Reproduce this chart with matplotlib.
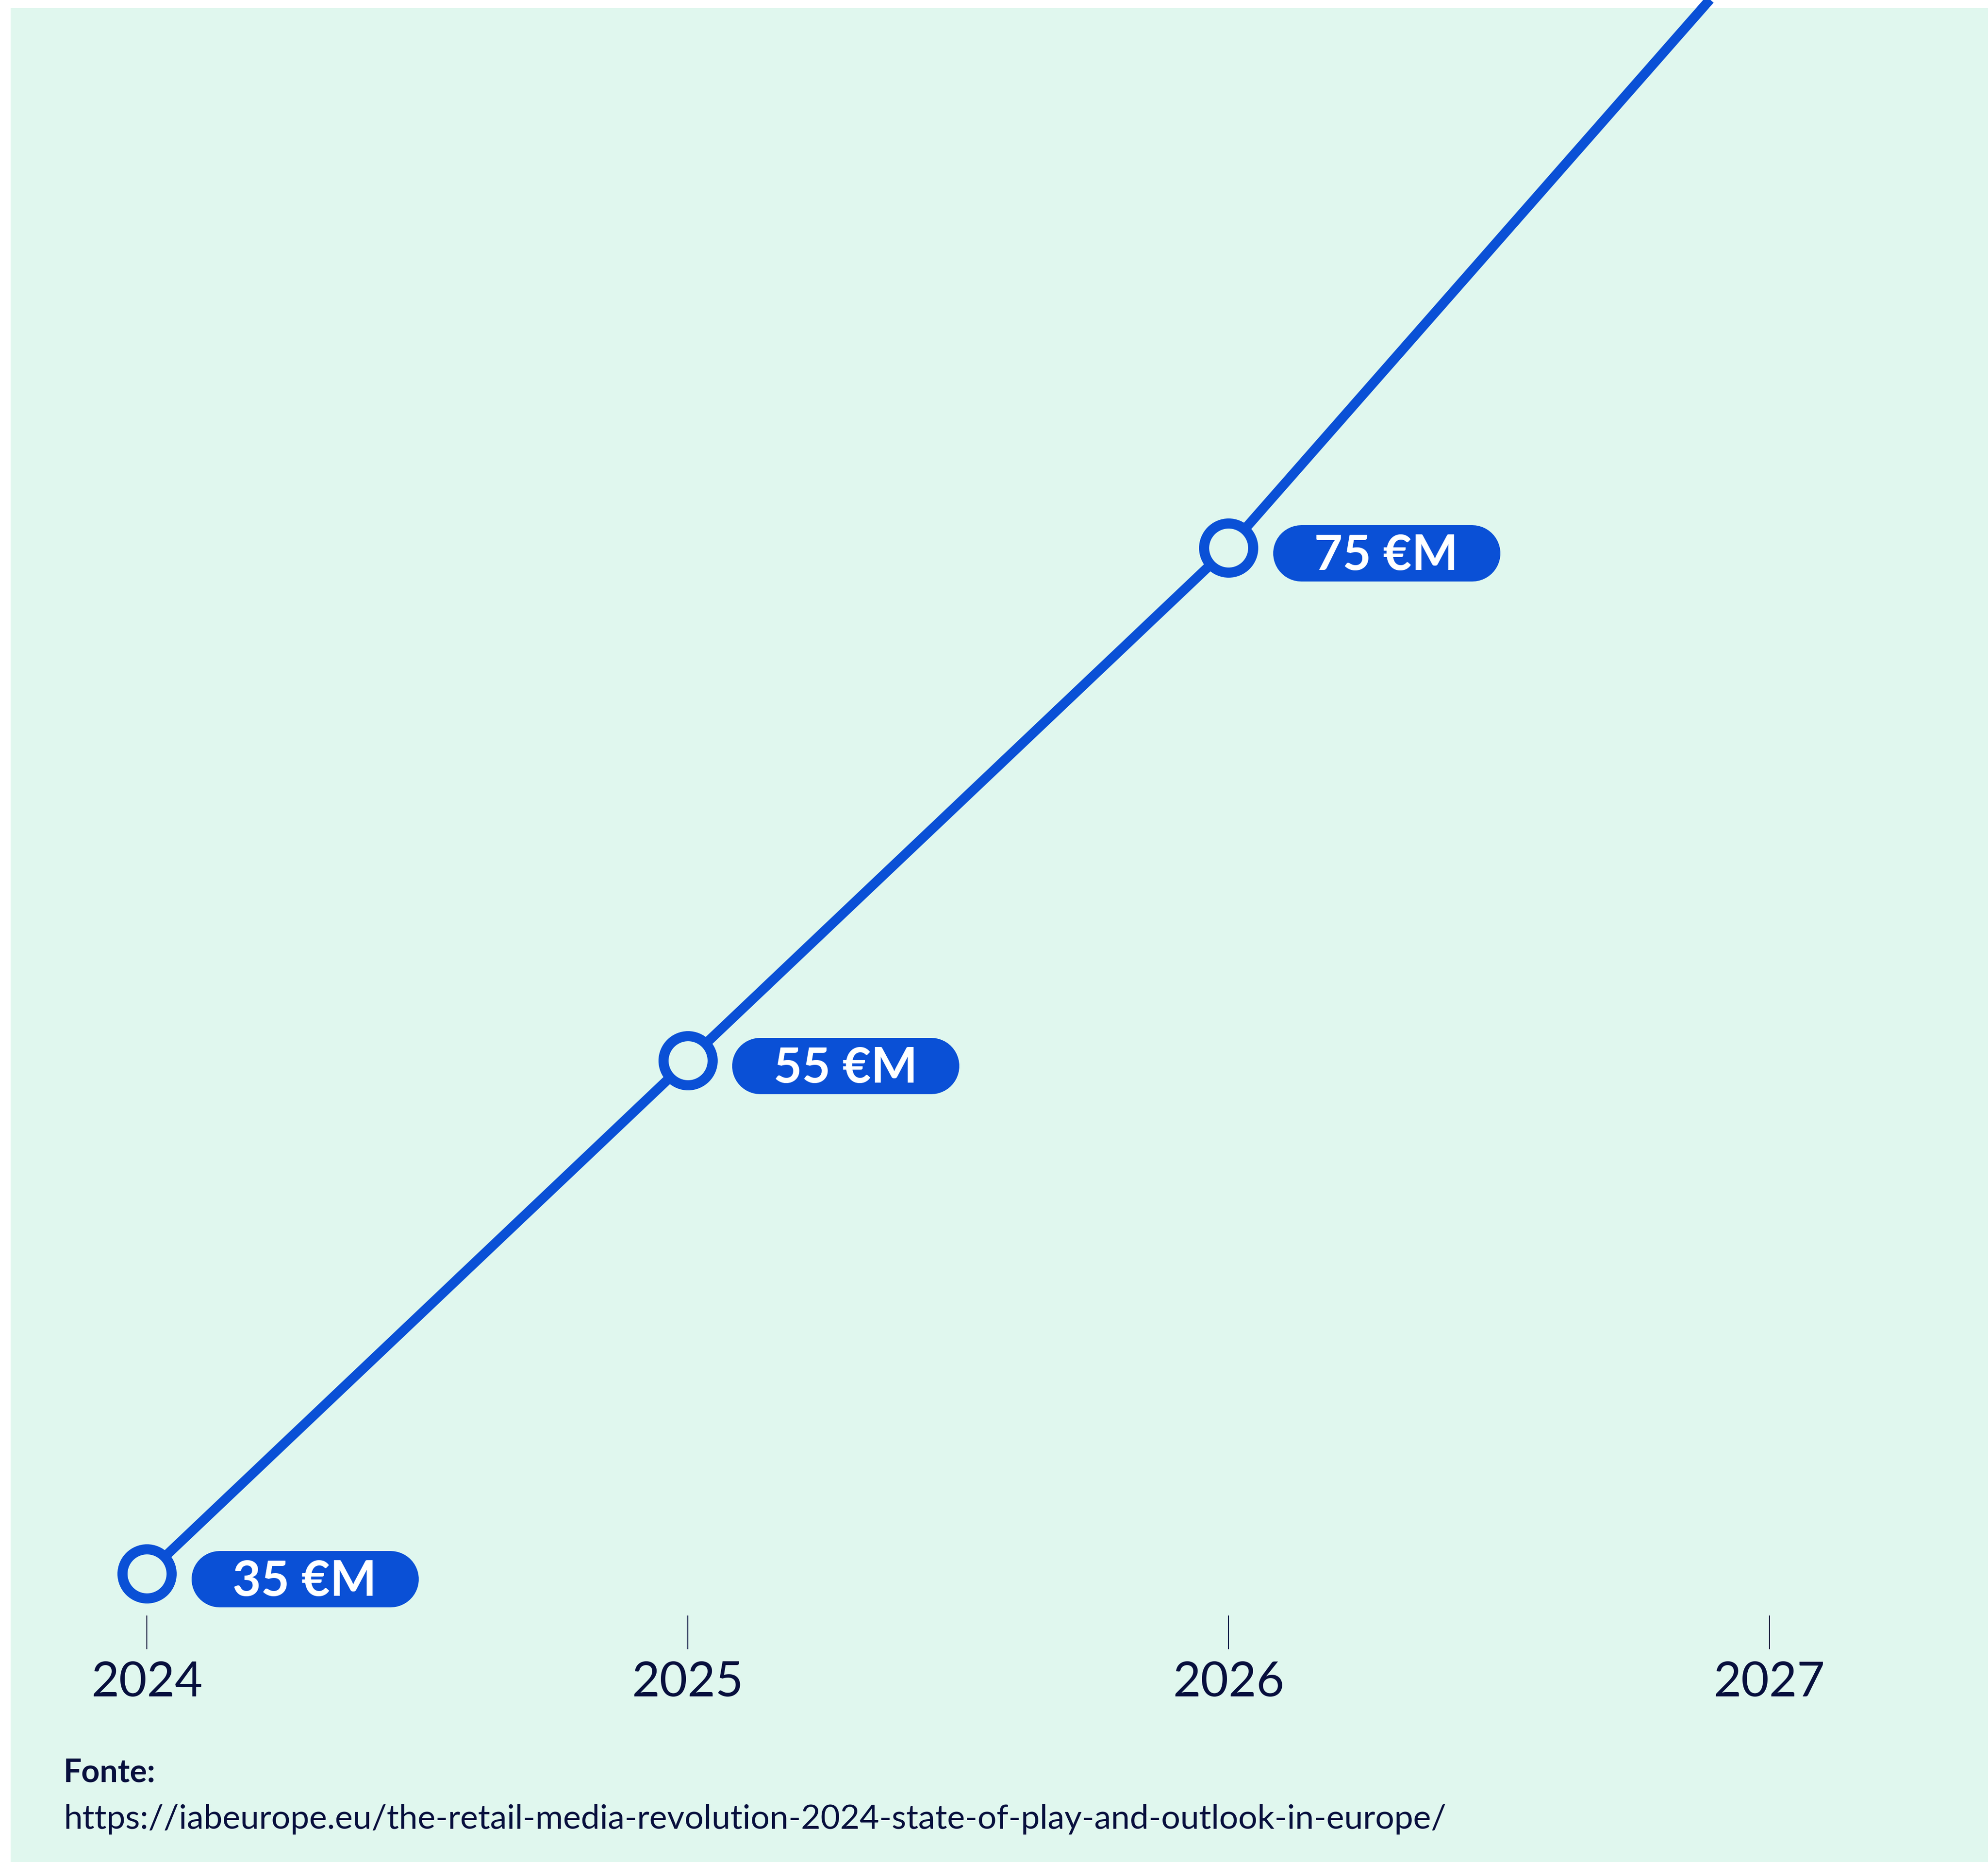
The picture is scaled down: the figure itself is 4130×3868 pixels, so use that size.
import matplotlib.pyplot as plt
import matplotlib.transforms as mtransforms
from matplotlib.patches import Rectangle

# retail media spend, millions of euro
years = [2024, 2025, 2026, 2027]
values = [35, 55, 75, 99]
labels = ["35 €M", "55 €M", "75 €M", "99 €M"]
source_title = "Fonte:"
source_url = "https://iabeurope.eu/the-retail-media-revolution-2024-state-of-play-and-outlook-in-europe/"

blue = "#0a50d6"
mint = "#e0f7ee"
navy = "#070f3d"

W, H, DPI = 4130, 3868, 300
px = 72 / DPI  # one pixel in points

plt.rcParams['font.family'] = ['Lato', 'DejaVu Sans']

fig = plt.figure(figsize=(W / DPI, H / DPI), dpi=DPI)
fig.patch.set_facecolor("white")

# mint panel, small white strip on the left and top
fig.patches.append(Rectangle((22 / W, 0), 1, 1 - 17 / H, transform=fig.transFigure,
                             facecolor=mint, edgecolor="none", zorder=-10))

ax = fig.add_axes([0, (H - 3356) / H, 1, 3356 / H])
ax.patch.set_visible(False)
for s in ax.spines.values():
    s.set_visible(False)
ax.yaxis.set_visible(False)

ax.set_xlim(2023.7285, 2027.4045)
ax.set_ylim(33.372, 96.351)

ax.plot(years, values, color=blue, lw=20 * px, solid_capstyle="butt", zorder=2)
ax.plot(years, values, ls="none", marker="o", ms=102 * px, mew=21 * px,
        mec=blue, mfc=mint, zorder=3)

# pill shaped value labels to the right of each point (a thick round-capped stroke)
bw, bh = 472 * px, 117 * px
dx, dy = 92 * px, -11 * px
for x, v, lab in zip(years, values, labels):
    tr = mtransforms.Affine2D().scale(DPI / 72) + mtransforms.ScaledTranslation(x, v, ax.transData)
    ax.plot([dx + bh / 2, dx + bw - bh / 2], [dy, dy], transform=tr, color=blue,
            lw=bh, solid_capstyle="round", zorder=4)
    ax.annotate(lab, (x, v), xytext=(dx + bw / 2, dy - 35 * px), textcoords="offset points",
                ha="center", va="baseline", fontsize=24.5, fontweight="bold", color="white", zorder=5)

ax.set_xticks(years)
ax.set_xticklabels([str(y) for y in years])
ax.tick_params(axis="x", direction="out", length=70 * px, width=2 * px, color=navy,
               pad=24 * px, labelsize=24, labelcolor=navy)

fig.text(132 / W, 1 - 3702 / H, source_title, fontsize=16, fontweight="bold", color=navy, va="baseline")
fig.text(132 / W, 1 - 3799 / H, source_url, fontsize=16.8, color=navy, va="baseline")

fig.savefig("out.png", dpi=DPI)
